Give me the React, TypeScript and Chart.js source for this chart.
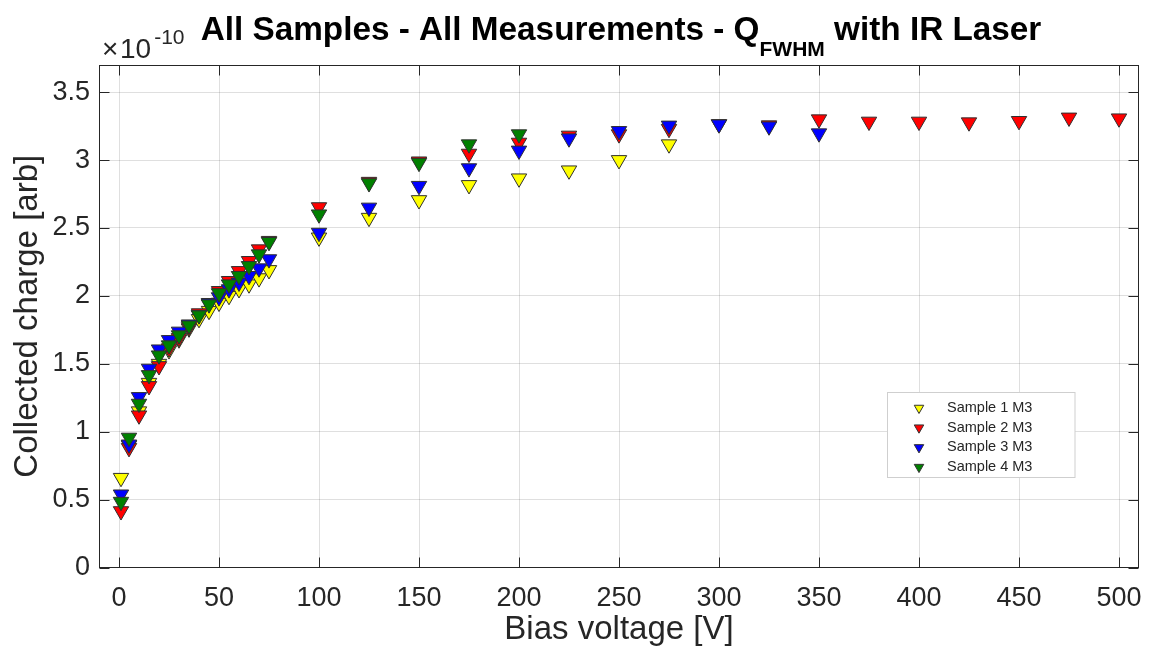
import React, { useEffect, useRef } from "react";
import { Chart, registerables } from "chart.js";

Chart.register(...registerables);

// ---------- data (values in units of 1e-10) ----------
const voltages = [1, 5, 10, 15, 20, 25, 30, 35, 40, 45, 50, 55, 60, 65, 70, 75, 100, 125, 150, 175, 200, 225, 250, 275, 300, 325, 350, 375, 400, 425, 450, 475, 500];
const sample1 = [0.66, 0.9, 1.15, 1.36, 1.5, 1.6, 1.68, 1.76, 1.83, 1.89, 1.95, 2.0, 2.05, 2.085, 2.13, 2.19, 2.43, 2.575, 2.705, 2.816, 2.865, 2.924, 3.0, 3.116];
const sample2 = [0.415, 0.88, 1.12, 1.336, 1.483, 1.614, 1.69, 1.77, 1.872, 1.945, 2.036, 2.11, 2.183, 2.257, 2.343, 2.405, 2.653, 2.84, 2.99, 3.047, 3.128, 3.18, 3.19, 3.23, 3.265, 3.256, 3.3, 3.283, 3.283, 3.278, 3.288, 3.313, 3.307];
const sample3 = [0.538, 0.906, 1.255, 1.464, 1.606, 1.675, 1.737, 1.79, 1.86, 1.948, 1.99, 2.049, 2.098, 2.147, 2.203, 2.27, 2.465, 2.65, 2.81, 2.94, 3.07, 3.16, 3.214, 3.254, 3.263, 3.248, 3.197];
const sample4 = [0.484, 0.956, 1.206, 1.417, 1.562, 1.636, 1.71, 1.783, 1.857, 1.938, 2.02, 2.085, 2.147, 2.22, 2.306, 2.397, 2.6, 2.83, 2.98, 3.116, 3.19];

const seriesNames = ["Sample 1 M3", "Sample 2 M3", "Sample 3 M3", "Sample 4 M3"];
const seriesValues = [sample1, sample2, sample3, sample4];
const seriesColors = ["#FFFF00", "#FF0000", "#0000FF", "#008000"];

const xTicks = [0, 50, 100, 150, 200, 250, 300, 350, 400, 450, 500];
const yTicks = [0, 0.5, 1, 1.5, 2, 2.5, 3, 3.5];
const yTickLabels = ["0", "0.5", "1", "1.5", "2", "2.5", "3", "3.5"];

const titleMain = "All Samples - All Measurements - Q";
const titleSub = "FWHM";
const titleEnd = " with IR Laser";
const xLabel = "Bias voltage [V]";
const yLabel = "Collected charge [arb]";
const exponentTimes = "\u00D7";
const exponentBase = "10";
const exponentPower = "-10";

// ---------- styles ----------
const FONT = "'Liberation Sans', Arial, Helvetica, sans-serif";
const TEXT = "#262626";
const GRID = "rgba(38,38,38,0.15)";

const decorPlugin = {
  id: "decor",
  afterDraw(chart: any) {
    const ctx = chart.ctx as CanvasRenderingContext2D;
    const { left, right, top, bottom } = chart.chartArea;
    const xs = chart.scales.x;
    const ys = chart.scales.y;
    ctx.save();

    // box
    ctx.strokeStyle = TEXT;
    ctx.lineWidth = 1;
    const L = Math.round(left) + 0.5;
    const R = Math.round(right) - 0.5;
    const T = Math.round(top) + 0.5;
    const B = Math.round(bottom) - 0.5;
    ctx.strokeRect(L, T, R - L, B - T);

    // inward ticks
    ctx.beginPath();
    xTicks.forEach((v) => {
      const px = Math.round(xs.getPixelForValue(v)) + 0.5;
      ctx.moveTo(px, B);
      ctx.lineTo(px, B - 10);
      ctx.moveTo(px, T);
      ctx.lineTo(px, T + 10);
    });
    yTicks.forEach((v) => {
      const py = Math.round(ys.getPixelForValue(v)) + 0.5;
      ctx.moveTo(L, py);
      ctx.lineTo(L + 10, py);
      ctx.moveTo(R, py);
      ctx.lineTo(R - 10, py);
    });
    ctx.stroke();

    // title with subscript
    ctx.fillStyle = "#000000";
    ctx.textBaseline = "alphabetic";
    ctx.textAlign = "left";
    const mainFont = `bold 33.3px ${FONT}`;
    const subFont = `bold 21px ${FONT}`;
    ctx.font = mainFont;
    const w1 = ctx.measureText(titleMain).width;
    const w3 = ctx.measureText(titleEnd).width;
    ctx.font = subFont;
    const w2 = ctx.measureText(titleSub).width;
    const total = w1 + w2 + w3;
    let tx = 621 - total / 2;
    const tBase = 40;
    ctx.font = mainFont;
    ctx.fillText(titleMain, tx, tBase);
    tx += w1;
    ctx.font = subFont;
    ctx.fillText(titleSub, tx, tBase + 16);
    tx += w2;
    ctx.font = mainFont;
    ctx.fillText(titleEnd, tx, tBase);

    // exponent label
    ctx.fillStyle = TEXT;
    ctx.font = `28px ${FONT}`;
    ctx.fillText(exponentTimes, 102, 58);
    ctx.fillText(exponentBase, 120, 58);
    const eb = ctx.measureText(exponentBase).width;
    ctx.font = `21px ${FONT}`;
    ctx.fillText(exponentPower, 120 + eb + 3, 44);

    // legend
    const lx = 887.5, ly = 392.5, lw = 187.5, lh = 85;
    ctx.fillStyle = "#FFFFFF";
    ctx.fillRect(lx, ly, lw, lh);
    ctx.strokeStyle = "#CFCFCF";
    ctx.strokeRect(lx, ly, lw, lh);
    ctx.font = `14.5px ${FONT}`;
    ctx.textBaseline = "middle";
    seriesNames.forEach((name, i) => {
      const cy = 408 + i * 19.7;
      const cx = 919;
      const r = 5.5;
      ctx.beginPath();
      ctx.moveTo(cx - r * 0.866, cy - r * 0.5);
      ctx.lineTo(cx + r * 0.866, cy - r * 0.5);
      ctx.lineTo(cx, cy + r);
      ctx.closePath();
      ctx.fillStyle = seriesColors[i];
      ctx.fill();
      ctx.strokeStyle = "#333333";
      ctx.lineWidth = 1;
      ctx.stroke();
      ctx.fillStyle = TEXT;
      ctx.fillText(name, 947, cy);
    });

    ctx.restore();
  },
};

export default function App() {
  const canvasRef = useRef<HTMLCanvasElement | null>(null);

  useEffect(() => {
    document.body.style.margin = "0";
    const canvas = canvasRef.current;
    if (!canvas) return;

    const datasets = seriesValues.map((vals, i) => ({
      label: seriesNames[i],
      data: vals.map((y, j) => ({ x: voltages[j], y })),
      showLine: false,
      pointStyle: "triangle" as const,
      rotation: 180,
      pointRadius: 8.9,
      pointHoverRadius: 8.9,
      pointBackgroundColor: seriesColors[i],
      pointBorderColor: "#303030",
      pointBorderWidth: 1,
      backgroundColor: seriesColors[i],
      borderColor: "#303030",
      order: seriesValues.length - 1 - i,
    }));

    const chart = new Chart(canvas, {
      type: "scatter",
      data: { datasets },
      plugins: [decorPlugin],
      options: {
        animation: false,
        responsive: false,
        maintainAspectRatio: false,
        events: [],
        layout: { padding: { left: 0, right: 14, top: 65, bottom: 0 } },
        plugins: {
          legend: { display: false },
          title: { display: false },
          tooltip: { enabled: false },
        },
        scales: {
          x: {
            type: "linear",
            min: -10,
            max: 510,
            afterBuildTicks: (scale: any) => {
              scale.ticks = xTicks.map((v) => ({ value: v }));
            },
            afterFit: (scale: any) => {
              scale.height = 92.5;
              scale.paddingLeft = 0;
              scale.paddingRight = 0;
            },
            grid: { color: GRID, lineWidth: 1, drawTicks: false },
            border: { display: false },
            ticks: {
              padding: 15,
              color: TEXT,
              font: { family: FONT, size: 27 },
              maxRotation: 0,
              autoSkip: false,
              callback: (v: any) => String(v),
            },
            title: {
              display: true,
              text: xLabel,
              color: TEXT,
              font: { family: FONT, size: 33 },
              padding: { top: 10, bottom: 10 },
            },
          },
          y: {
            type: "linear",
            min: 0,
            max: 3.7,
            afterBuildTicks: (scale: any) => {
              scale.ticks = yTicks.map((v) => ({ value: v }));
            },
            afterFit: (scale: any) => {
              scale.width = 99;
              scale.paddingTop = 0;
              scale.paddingBottom = 0;
            },
            grid: { color: GRID, lineWidth: 1, drawTicks: false },
            border: { display: false },
            ticks: {
              padding: 9,
              color: TEXT,
              font: { family: FONT, size: 27 },
              autoSkip: false,
              callback: (v: any) => {
                const k = yTicks.indexOf(Number(v));
                return k >= 0 ? yTickLabels[k] : "";
              },
            },
            title: {
              display: true,
              text: yLabel,
              color: TEXT,
              font: { family: FONT, size: 33 },
              padding: { top: 8, bottom: 8 },
            },
          },
        },
      } as any,
    });

    return () => {
      chart.destroy();
    };
  }, []);

  return (
    <canvas
      ref={canvasRef}
      width={1153}
      height={660}
      style={{ display: "block", width: "1153px", height: "660px" }}
    />
  );
}
